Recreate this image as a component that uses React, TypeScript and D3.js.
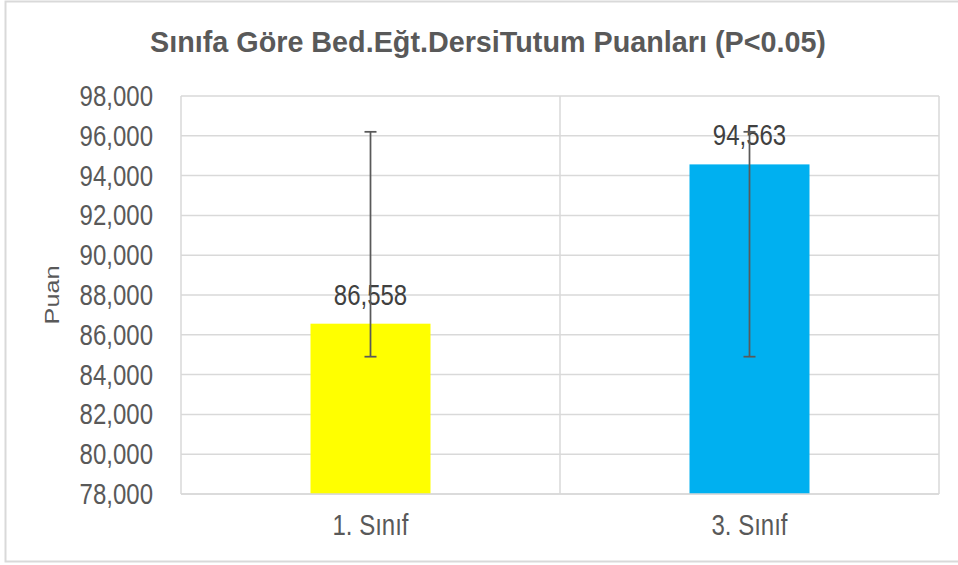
import { useRef, useEffect } from "react";
import * as d3 from "d3";

// chart data
const categories = ["1. Sınıf", "3. Sınıf"];
const means = [86.558, 94.563];
const errLow = [84.9, 84.9];
const errHigh = [96.2, 96.2];
const yTicks = [78, 80, 82, 84, 86, 88, 90, 92, 94, 96, 98];
const barColors = ["#FFFF00", "#00B0F0"];

const title = "Sınıfa Göre Bed.Eğt.DersiTutum Puanları (P<0.05)";
const yLabel = "Puan";

const fmt = (v: number) => d3.format(".3f")(v).replace(".", ",");
const SY = 1.2; // picture is stretched vertically

const App = () => {
  const svgRef = useRef<SVGSVGElement>(null);

  useEffect(() => {
    const width = 958;
    const height = 565;
    const plot = { left: 181, right: 939, top: 96, bottom: 494 };

    const svg = d3.select(svgRef.current);
    svg.selectAll("*").remove();

    svg.append("rect")
      .attr("x", 0).attr("y", 0).attr("width", width).attr("height", height)
      .attr("fill", "#fff");

    // outer chart border
    svg.append("rect")
      .attr("x", 5.5).attr("y", 1.5).attr("width", width).attr("height", 560)
      .attr("fill", "none").attr("stroke", "#d9d9d9").attr("stroke-width", 2);

    const x = d3.scaleBand().domain(categories).range([plot.left, plot.right]);
    const y = d3.scaleLinear().domain([78, 98]).range([plot.bottom, plot.top]);

    const g = svg.append("g");

    // horizontal gridlines
    g.selectAll("line.h")
      .data(yTicks)
      .join("line")
      .attr("class", "h")
      .attr("x1", plot.left).attr("x2", plot.right)
      .attr("y1", (d) => y(d)).attr("y2", (d) => y(d))
      .attr("stroke", "#d9d9d9").attr("stroke-width", 1.5);

    // vertical gridlines at category boundaries
    const vx = [plot.left, ...categories.map((c) => (x(c) as number) + x.bandwidth())];
    g.selectAll("line.v")
      .data(vx)
      .join("line")
      .attr("class", "v")
      .attr("x1", (d) => d).attr("x2", (d) => d)
      .attr("y1", plot.top).attr("y2", plot.bottom)
      .attr("stroke", "#d9d9d9").attr("stroke-width", 1.5);

    const barW = 120;
    const cx = (c: string) => (x(c) as number) + x.bandwidth() / 2;

    // bars
    g.selectAll("rect.bar")
      .data(categories)
      .join("rect")
      .attr("class", "bar")
      .attr("x", (c) => cx(c) - barW / 2)
      .attr("width", barW)
      .attr("y", (c, i) => y(means[i]))
      .attr("height", (c, i) => y(78) - y(means[i]))
      .attr("fill", (c, i) => barColors[i]);

    // data labels
    g.selectAll("text.val")
      .data(categories)
      .join("text")
      .attr("class", "val")
      .attr("transform", (c, i) => `translate(${cx(c)},${y(means[i]) - 19}) scale(1,${SY})`)
      .attr("text-anchor", "middle")
      .style("font-family", "'Liberation Sans', Arial, sans-serif")
      .style("font-size", "24px")
      .style("fill", "#404040")
      .text((c, i) => fmt(means[i]));

    // error bars
    const eb = g.selectAll("g.err").data(categories).join("g").attr("class", "err");
    eb.append("line")
      .attr("x1", (c) => cx(c)).attr("x2", (c) => cx(c))
      .attr("y1", (c, i) => y(errLow[i])).attr("y2", (c, i) => y(errHigh[i]));
    eb.append("line")
      .attr("x1", (c) => cx(c) - 6).attr("x2", (c) => cx(c) + 6)
      .attr("y1", (c, i) => y(errLow[i])).attr("y2", (c, i) => y(errLow[i]));
    eb.append("line")
      .attr("x1", (c) => cx(c) - 6).attr("x2", (c) => cx(c) + 6)
      .attr("y1", (c, i) => y(errHigh[i])).attr("y2", (c, i) => y(errHigh[i]));
    eb.selectAll("line").attr("stroke", "#595959").attr("stroke-width", 1.75);

    // bottom axis line
    g.append("line")
      .attr("x1", plot.left).attr("x2", plot.right)
      .attr("y1", plot.bottom).attr("y2", plot.bottom)
      .attr("stroke", "#d9d9d9").attr("stroke-width", 1.5);

    // y tick labels
    g.selectAll("text.yt")
      .data(yTicks)
      .join("text")
      .attr("class", "yt")
      .attr("transform", (d) => `translate(153,${y(d)}) scale(1,${SY})`)
      .attr("dy", "0.35em")
      .attr("text-anchor", "end")
      .style("font-family", "'Liberation Sans', Arial, sans-serif")
      .style("font-size", "24px")
      .style("fill", "#595959")
      .text((d) => fmt(d));

    // x labels
    g.selectAll("text.xl")
      .data(categories)
      .join("text")
      .attr("class", "xl")
      .attr("transform", (c) => `translate(${cx(c)},535) scale(1,${SY})`)
      .attr("text-anchor", "middle")
      .style("font-family", "'Liberation Sans', Arial, sans-serif")
      .style("font-size", "24px")
      .style("fill", "#595959")
      .text((c) => c);

    // y axis title
    svg.append("text")
      .attr("transform", `translate(59,295) rotate(-90) scale(${SY},1)`)
      .attr("text-anchor", "middle")
      .style("font-family", "'Liberation Sans', Arial, sans-serif")
      .style("font-size", "21px")
      .style("fill", "#595959")
      .text(yLabel);

    // chart title
    svg.append("text")
      .attr("transform", `translate(488,51.5) scale(1.15,${SY})`)
      .attr("text-anchor", "middle")
      .style("font-family", "'Liberation Sans', Arial, sans-serif")
      .style("font-size", "25px")
      .style("font-weight", "bold")
      .style("fill", "#595959")
      .text(title);
  }, []);

  return (
    <svg
      ref={svgRef}
      width={958}
      height={565}
      style={{ position: "absolute", left: 0, top: 0, display: "block" }}
    ></svg>
  );
};

export default App;
